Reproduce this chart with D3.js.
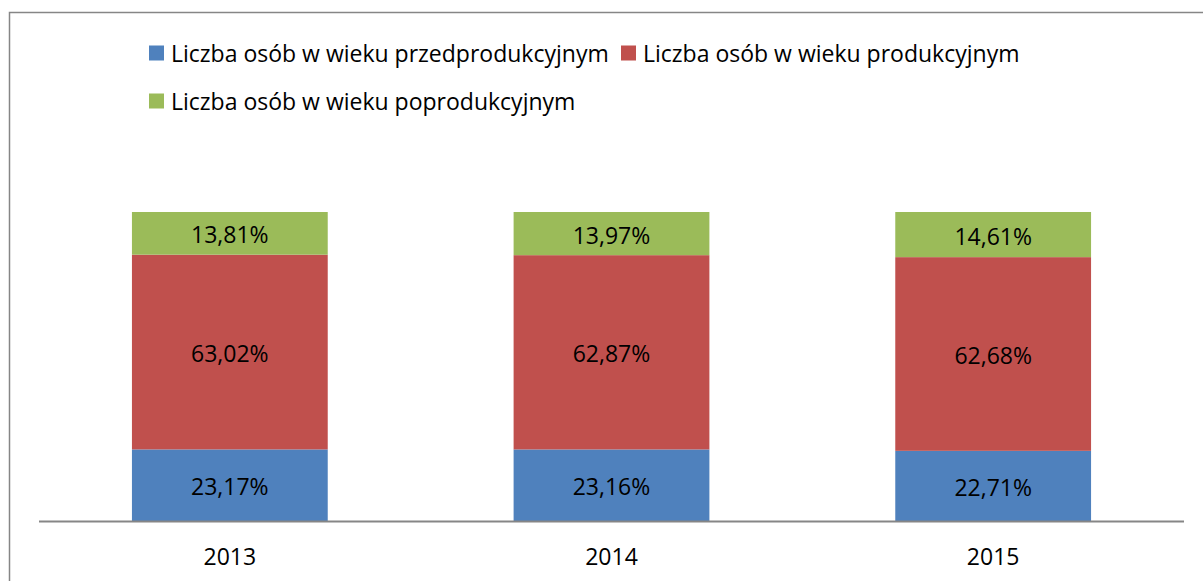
<!DOCTYPE html>
<html>
<head>
<meta charset="utf-8">
<script src="https://cdn.jsdelivr.net/npm/d3@7"></script>
<style>
  html, body { margin: 0; padding: 0; background: #fff; }
  svg { display: block; }
  text { font-family: "Open Sans", sans-serif; fill: #000; }
</style>
</head>
<body>
<svg id="chart" width="1203" height="581"></svg>
<script>
const categories = ["2013", "2014", "2015"];
const seriesNames = [
  "Liczba osób w wieku przedprodukcyjnym",
  "Liczba osób w wieku produkcyjnym",
  "Liczba osób w wieku poprodukcyjnym"
];
const przedprodukcyjny = [23.17, 23.16, 22.71];
const produkcyjny = [63.02, 62.87, 62.68];
const poprodukcyjny = [13.81, 13.97, 14.61];
const seriesColors = ["#4F81BD", "#C0504D", "#9BBB59"];

const seriesValues = [przedprodukcyjny, produkcyjny, poprodukcyjny];
const rows = categories.map((c, i) => {
  const r = { cat: c };
  seriesNames.forEach((s, j) => r[s] = seriesValues[j][i]);
  return r;
});

const svg = d3.select("#chart");

svg.append("rect")
  .attr("x", 9.5).attr("y", 12.5)
  .attr("width", 1200).attr("height", 600)
  .attr("fill", "none").attr("stroke", "#868686").attr("stroke-width", 1.5);

const x = d3.scaleBand().domain(categories).range([39, 1184])
  .paddingInner(0.487).paddingOuter(0.2435);
const y = d3.scaleLinear().domain([0, 100]).range([521, 212]);

const stacked = d3.stack().keys(seriesNames)(rows);

const g = svg.append("g");
stacked.forEach((layer, j) => {
  g.append("g").attr("fill", seriesColors[j])
    .selectAll("rect").data(layer).join("rect")
    .attr("x", d => x(d.data.cat))
    .attr("width", x.bandwidth())
    .attr("y", d => y(d[1]))
    .attr("height", d => y(d[0]) - y(d[1]));
});
stacked.forEach((layer, j) => {
  g.append("g").selectAll("text").data(layer).join("text")
    .attr("x", d => x(d.data.cat) + x.bandwidth() / 2)
    .attr("y", d => (y(d[0]) + y(d[1])) / 2 + 1)
    .attr("text-anchor", "middle")
    .attr("dominant-baseline", "central")
    .style("font-size", "23px")
    .text(d => (d[1] - d[0]).toFixed(2).replace(".", ",") + "%");
});

const xAxis = svg.append("g").attr("transform", "translate(0,521.5)")
  .call(d3.axisBottom(x).tickSize(0).tickPadding(0));
xAxis.select(".domain").attr("stroke", "#868686").attr("stroke-width", 2)
  .attr("d", "M39,0H1184");
xAxis.selectAll(".tick text")
  .attr("dy", null).attr("y", 43.5)
  .style("font-size", "23px")
  .style("font-family", "'Open Sans', sans-serif")
  .attr("fill", "#000");

const legendPos = [
  { x: 149, y: 45.5 },
  { x: 621, y: 45.5 },
  { x: 149, y: 93.5 }
];
const legend = svg.append("g");
seriesNames.forEach((s, j) => {
  const p = legendPos[j];
  legend.append("rect").attr("x", p.x).attr("y", p.y)
    .attr("width", 15).attr("height", 15).attr("fill", seriesColors[j]);
  legend.append("text").attr("x", p.x + 22).attr("y", p.y + 7.5)
    .attr("dominant-baseline", "central")
    .style("font-size", "23px")
    .text(s);
});
</script>
</body>
</html>
